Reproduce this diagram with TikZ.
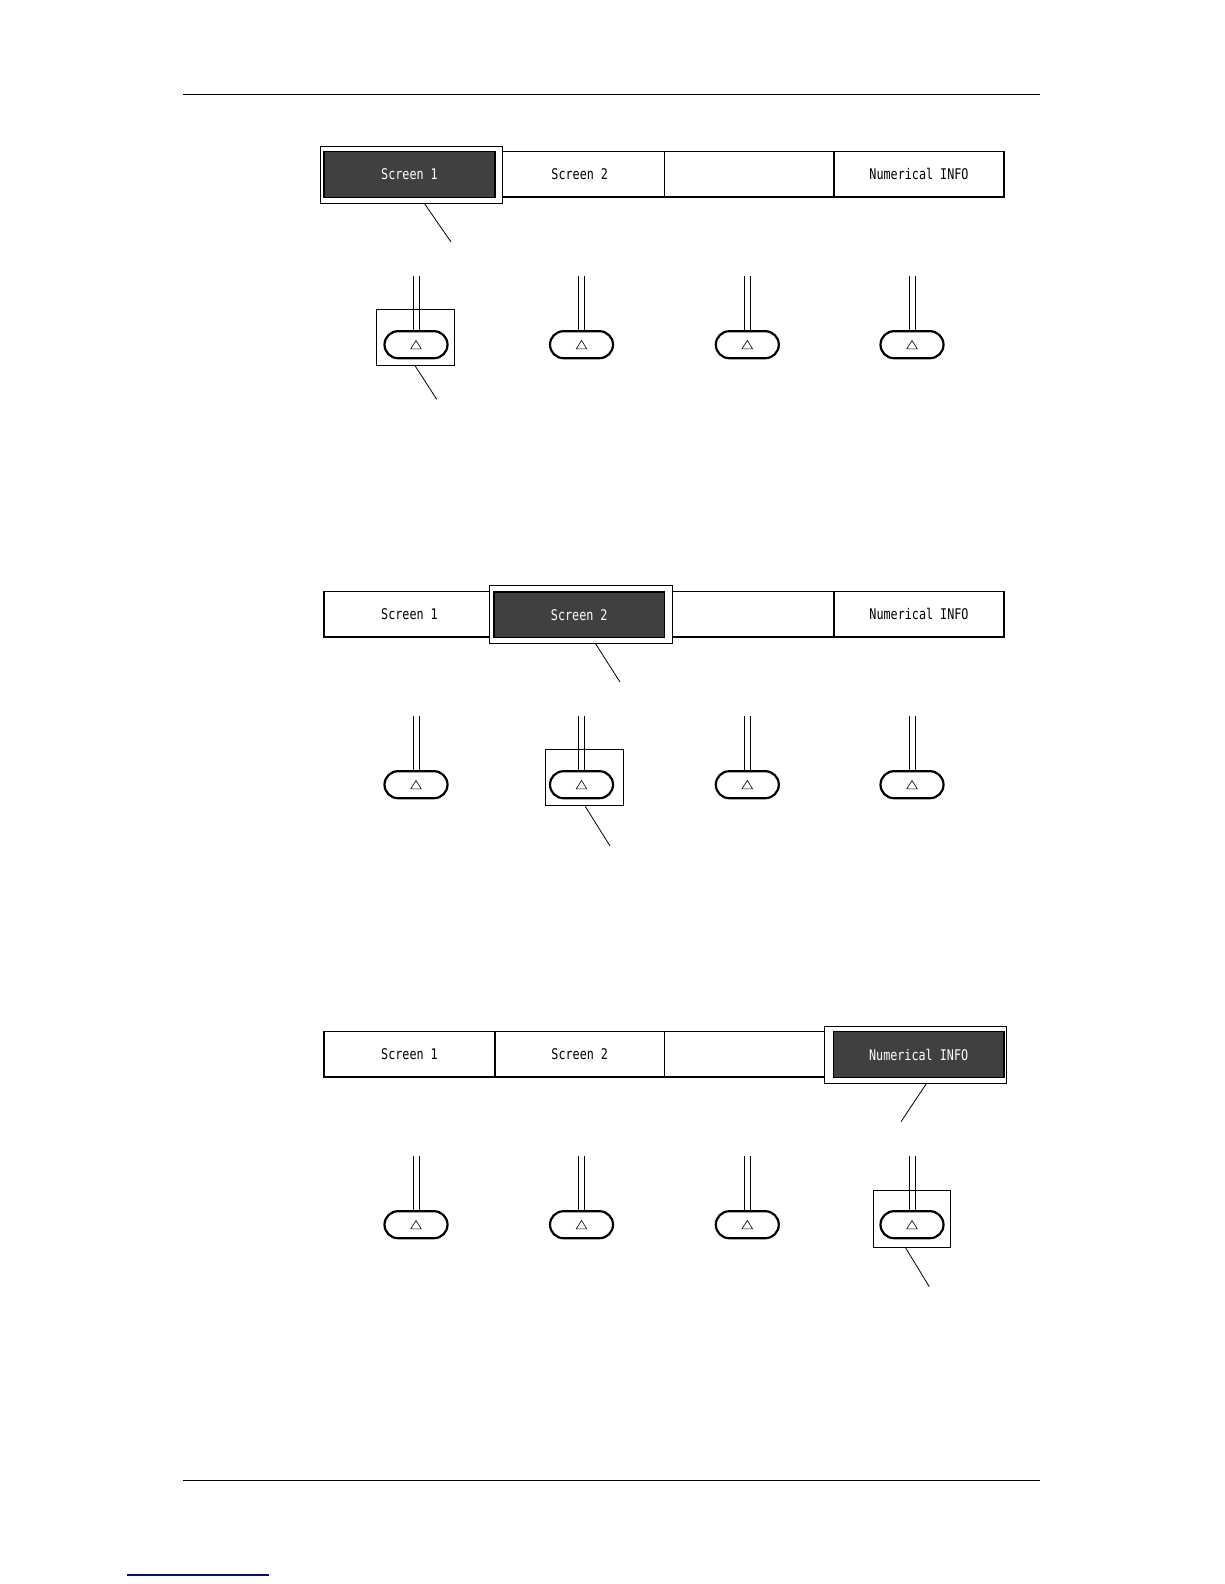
\documentclass[tikz,border=0pt]{standalone}
\usepackage{fontspec}
\newfontfamily\guifont[FakeStretch=0.8]{DejaVu Sans Mono}
\definecolor{darkcell}{RGB}{64,64,64}
\definecolor{linkblue}{RGB}{10,10,130}
\begin{document}
\begin{tikzpicture}[x=1pt,y=-1pt,
  cell/.style={draw, line width=1.5pt, minimum height=45.5pt, inner sep=0pt,
    font=\guifont\fontsize{14.7}{16}\selectfont},
  hlbox/.style={draw, line width=0.9pt, fill=white, inner sep=0pt},
  dark/.style={draw=black, fill=darkcell, line width=1.5pt, inner sep=0pt, text=white,
    font=\guifont\fontsize{14.7}{16}\selectfont},
  btnbox/.style={draw, line width=0.9pt, inner sep=0pt},
  pill/.style={draw, line width=2.2pt, minimum width=63pt, minimum height=27pt,
    rounded corners=13.5pt, inner sep=0pt},
  stem/.style={line width=0.9pt},
  tri/.style={line width=0.6pt},
  callout/.style={line width=0.8pt},
  rule/.style={line width=1pt}]
\path[use as bounding box] (0,0) rectangle (1224,1584);
% page rules
\coordinate (hl) at (182.8,95); \coordinate (hr) at (1040,95);
\draw[rule] (hl) -- (hr);
\coordinate (fl) at (182.7,1480); \coordinate (fr) at (1040,1480);
\draw[rule] (fl) -- (fr);
\coordinate (ll) at (126.7,1575); \coordinate (lr) at (269,1575);
\draw[line width=1.2pt, linkblue] (ll) -- (lr);

\foreach \p in {0,1,2}{
  \pgfmathsetmacro\dy{440*\p}
  \node[cell, minimum width=171pt] (c\p1) at (409.5,174.25+\dy) {Screen 1};
  \node[cell, minimum width=169.5pt] (c\p2) at (579.75,174.25+\dy) {Screen 2};
  \node[cell, minimum width=169.5pt] (c\p3) at (749.25,174.25+\dy) {};
  \node[cell, minimum width=170pt] (c\p4) at (919,174.25+\dy) {Numerical INFO};
  \foreach \i/\x in {1/416,2/581.5,3/747.3,4/912}{
    \node[pill] (b\p\i) at (\x,344.7+\dy) {};
    \coordinate (t\p\i) at (\x,275.7+\dy);
    \draw[stem] ([xshift=-3pt]t\p\i) -- ([xshift=-3pt]b\p\i.north);
    \draw[stem] ([xshift=3pt]t\p\i) -- ([xshift=3pt]b\p\i.north);
    \draw[tri, shift={(b\p\i)}] (-5.3,4.2) -- (5.3,4.2) -- (0,-4.2) -- cycle;
  }
}

% panel 1 highlight
\node[hlbox, minimum width=182pt, minimum height=57.3pt] (h0) at (411.7,174.65) {};
\node[dark, minimum width=171pt, minimum height=45.6pt] (d0) at (409.5,174.5) {Screen 1};
\coordinate (e0) at (451,242);
\draw[callout] ([xshift=104.3pt]h0.south west) -- (e0);
\node[btnbox, minimum width=77.3pt, minimum height=56.4pt] (k0) at (415.3,337.5) {};
\coordinate (f0) at (436.7,399.3);
\draw[callout] (k0.south) -- (f0);

% panel 2 highlight
\node[hlbox, minimum width=182.8pt, minimum height=57.6pt] (h1) at (581.2,614.5) {};
\node[dark, minimum width=170.5pt, minimum height=45.6pt] (d1) at (579.25,614.7) {Screen 2};
\coordinate (e1) at (620,682);
\draw[callout] ([xshift=106.2pt]h1.south west) -- (e1);
\node[btnbox, minimum width=77.8pt, minimum height=56.6pt] (k1) at (584.2,777.6) {};
\coordinate (f1) at (610,846);
\draw[callout] ([xshift=40.4pt]k1.south west) -- (f1);

% panel 3 highlight
\node[hlbox, minimum width=182.7pt, minimum height=57.3pt] (h2) at (915.35,1054.65) {};
\node[dark, minimum width=170.7pt, minimum height=46pt] (d2) at (918.65,1054.7) {Numerical INFO};
\coordinate (e2) at (901,1121.7);
\draw[callout] ([xshift=102.7pt]h2.south west) -- (e2);
\node[btnbox, minimum width=77.4pt, minimum height=57.3pt] (k2) at (912,1218.65) {};
\coordinate (f2) at (929.3,1286.7);
\draw[callout] ([xshift=32.7pt]k2.south west) -- (f2);
\end{tikzpicture}
\end{document}
